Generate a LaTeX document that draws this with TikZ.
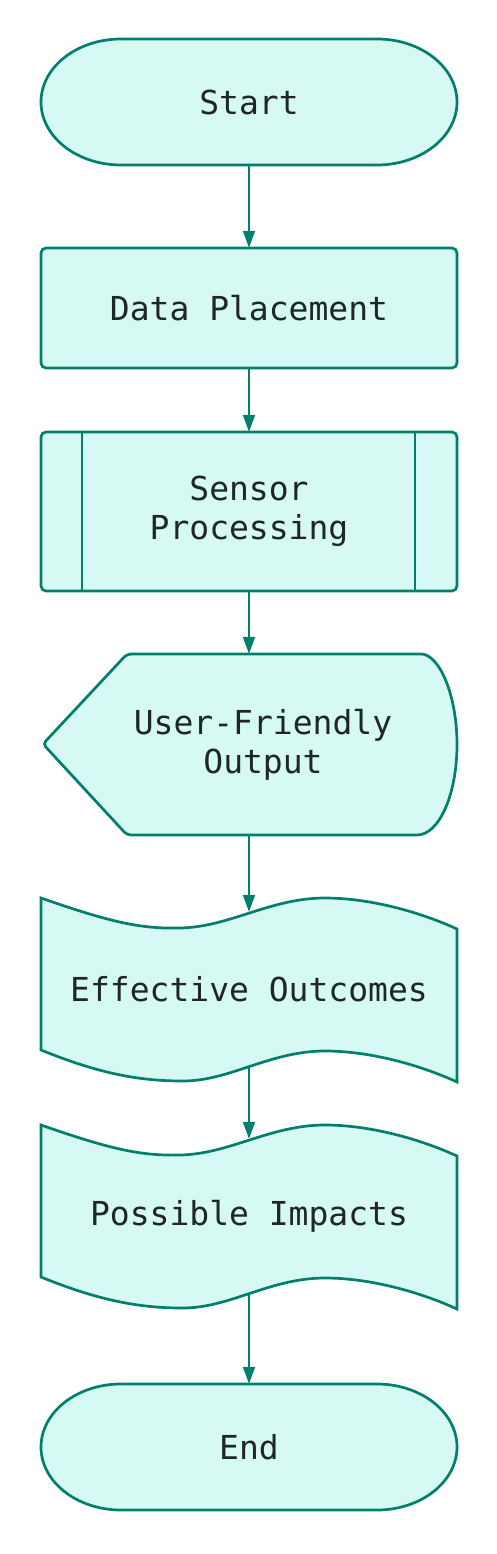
\documentclass[tikz,border=0pt]{standalone}
\usepackage{fontspec}
\setmonofont{DejaVu Sans Mono}
\usetikzlibrary{arrows.meta}

\definecolor{flowline}{HTML}{00806C}
\definecolor{flowfill}{HTML}{D7F9F3}
\definecolor{flowtext}{HTML}{1E2626}

\begin{document}
\begin{tikzpicture}[x=1pt,y=-1pt]
        \tikzstyle{box}=[draw=flowline, line width=2.7pt, fill=flowfill]
        \tikzstyle{txt}=[text=flowtext, align=center, inner sep=0pt,
            font=\ttfamily\fontsize{33}{39}\selectfont]
        \tikzstyle{flow}=[draw=flowline, line width=2pt,
            -{Triangle[length=17pt,width=12pt]}]

        \useasboundingbox (0,0) rectangle (496,1554);

        % Draw shapes
        \draw[box] (121,39) -- (377,39)
            arc[start angle=-90, end angle=90, x radius=80, y radius=63]
            -- (121,165)
            arc[start angle=90, end angle=270, x radius=80, y radius=63] -- cycle;
        \draw[box, rounded corners=5pt] (41,248) rectangle (457,368);
        \draw[box, rounded corners=5pt] (41,432) rectangle (457,591);
        \draw[flowline, line width=2.7pt] (82,432) -- (82,591);
        \draw[flowline, line width=2.7pt] (415,432) -- (415,591);
        \draw[box, rounded corners=4pt] (43,744) -- (127,654) -- (417,654)
            [sharp corners] arc[start angle=-90, end angle=90, x radius=40, y radius=90.5]
            [rounded corners=4pt] -- (127,835) -- cycle;
        \foreach \dy in {0,227} {
            \draw[box] (41,898+\dy) .. controls (110,922+\dy) and (140,929+\dy) .. (180,928+\dy)
                .. controls (230,927+\dy) and (270,898+\dy) .. (325,898+\dy)
                .. controls (370,898+\dy) and (420,912+\dy) .. (457,929+\dy)
                -- (457,1082+\dy)
                .. controls (420,1065+\dy) and (370,1051+\dy) .. (325,1051+\dy)
                .. controls (270,1051+\dy) and (230,1081+\dy) .. (183,1081+\dy)
                .. controls (140,1081+\dy) and (100,1074+\dy) .. (41,1050+\dy) -- cycle;
        }
        \draw[box] (121,1384) -- (377,1384)
            arc[start angle=-90, end angle=90, x radius=80, y radius=63]
            -- (121,1510)
            arc[start angle=90, end angle=270, x radius=80, y radius=63] -- cycle;

        % Add texts
        \node[txt, minimum width=416pt, minimum height=126pt] (start) at (249,102) {Start};
        \node[txt, minimum width=416pt, minimum height=120pt] (place) at (249,308) {Data Placement};
        \node[txt, minimum width=416pt, minimum height=159pt] (sensor) at (249,511.5) {Sensor\\Processing};
        \node[txt, minimum width=388pt, minimum height=181pt] (output) at (263,744.5) {User-Friendly\\Output};
        \node[txt, minimum width=416pt, minimum height=154pt] (outcome) at (249,989) {Effective Outcomes};
        \node[txt, minimum width=416pt, minimum height=154pt] (impact) at (249,1216) {Possible Impacts};
        \node[txt, minimum width=416pt, minimum height=126pt] (stop) at (249,1447) {End};

        % Add connectors
        \draw[flow] (start) -- (place);
        \draw[flow] (place) -- (sensor);
        \draw[flow] (sensor.south) -- (sensor.south |- output.north);
        \draw[flow] (sensor.south |- output.south) -- (outcome.north);
        \draw[flow] (outcome) -- (impact);
        \draw[flow] (impact) -- (stop);
\end{tikzpicture}
\end{document}
